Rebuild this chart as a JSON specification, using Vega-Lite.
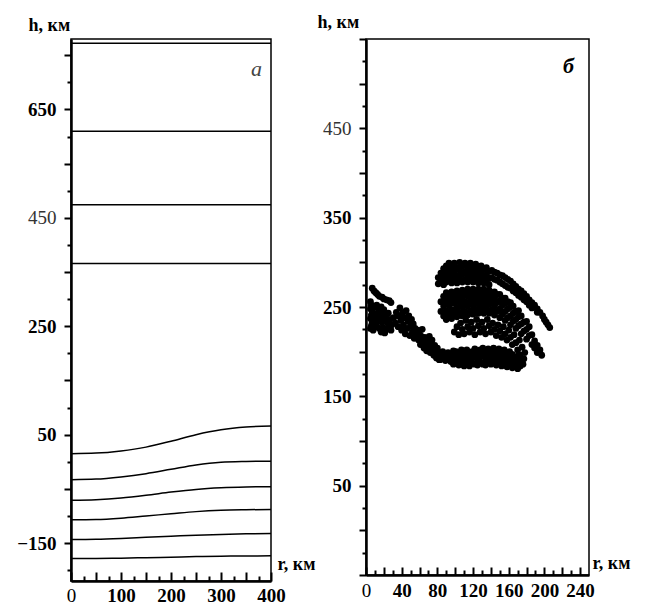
{
  "$schema": "https://vega.github.io/schema/vega-lite/v6.json",
  "padding": {"left": 15, "top": 12, "right": 0, "bottom": 0},
  "background": "white",
  "spacing": 95,
  "bounds": "flush",
  "config": {
    "font": "Liberation Serif",
    "view": {"stroke": "black", "strokeWidth": 1.5},
    "axis": {"domainColor": "black", "domainWidth": 2.5, "tickColor": "black", "tickWidth": 2, "grid": false,
      "labelFont": "Liberation Serif", "labelFontSize": 19, "labelColor": "black",
      "titleFont": "Liberation Serif", "titleFontSize": 18, "titleFontWeight": "bold", "titleColor": "black",
      "labelOverlap": false, "labelFlush": false}
  },
  "datasets": {
    "lines": [
      {"k":"a","r":0,"h":772},{"k":"a","r":400,"h":772},
      {"k":"b","r":0,"h":610},{"k":"b","r":400,"h":610},
      {"k":"c","r":0,"h":474},{"k":"c","r":400,"h":474},
      {"k":"d","r":0,"h":366},{"k":"d","r":400,"h":366},
      {"k":"e","r":0,"h":15},{"k":"e","r":50,"h":16},{"k":"e","r":100,"h":20},{"k":"e","r":150,"h":27},{"k":"e","r":200,"h":38},{"k":"e","r":250,"h":50},{"k":"e","r":300,"h":59},{"k":"e","r":350,"h":64},{"k":"e","r":400,"h":66},
      {"k":"f","r":0,"h":-33},{"k":"f","r":50,"h":-32},{"k":"f","r":100,"h":-28},{"k":"f","r":150,"h":-22},{"k":"f","r":200,"h":-14},{"k":"f","r":250,"h":-6},{"k":"f","r":300,"h":-1},{"k":"f","r":350,"h":0.5},{"k":"f","r":400,"h":1},
      {"k":"g","r":0,"h":-71},{"k":"g","r":50,"h":-70},{"k":"g","r":100,"h":-67},{"k":"g","r":150,"h":-62},{"k":"g","r":200,"h":-56},{"k":"g","r":250,"h":-51},{"k":"g","r":300,"h":-48},{"k":"g","r":350,"h":-46.5},{"k":"g","r":400,"h":-46},
      {"k":"h","r":0,"h":-107},{"k":"h","r":50,"h":-106.5},{"k":"h","r":100,"h":-104},{"k":"h","r":150,"h":-100},{"k":"h","r":200,"h":-96},{"k":"h","r":250,"h":-92},{"k":"h","r":300,"h":-89.5},{"k":"h","r":350,"h":-88.5},{"k":"h","r":400,"h":-88},
      {"k":"i","r":0,"h":-143.5},{"k":"i","r":50,"h":-143},{"k":"i","r":100,"h":-141.5},{"k":"i","r":150,"h":-139.5},{"k":"i","r":200,"h":-137.5},{"k":"i","r":250,"h":-135.5},{"k":"i","r":300,"h":-134},{"k":"i","r":350,"h":-133},{"k":"i","r":400,"h":-132.5},
      {"k":"j","r":0,"h":-178.5},{"k":"j","r":50,"h":-178.3},{"k":"j","r":100,"h":-177.8},{"k":"j","r":150,"h":-177},{"k":"j","r":200,"h":-176},{"k":"j","r":250,"h":-175},{"k":"j","r":300,"h":-174.3},{"k":"j","r":350,"h":-173.8},{"k":"j","r":400,"h":-173.5}
    ],
    "dots": [
      {"r":7,"h":271},{"r":9,"h":268},{"r":11,"h":266},{"r":13,"h":264},{"r":15,"h":262},{"r":18,"h":261},{"r":20,"h":259},{"r":23,"h":258},{"r":26,"h":257},{"r":28,"h":255},
      {"r":5,"h":256},{"r":6,"h":252},{"r":5,"h":248},{"r":7,"h":245},{"r":6,"h":241},{"r":5,"h":237},{"r":7,"h":233},{"r":6,"h":229},{"r":5,"h":226},{"r":8,"h":224},{"r":9,"h":250},{"r":9,"h":240},{"r":10,"h":232},
      {"r":12,"h":252},{"r":14,"h":248},{"r":17,"h":250},{"r":20,"h":247},{"r":13,"h":243},{"r":16,"h":240},{"r":19,"h":243},{"r":22,"h":240},{"r":25,"h":243},{"r":11,"h":236},{"r":14,"h":234},{"r":18,"h":233},{"r":21,"h":236},{"r":24,"h":232},{"r":27,"h":236},{"r":12,"h":228},{"r":15,"h":226},{"r":19,"h":227},{"r":23,"h":225},{"r":26,"h":228},{"r":29,"h":230},{"r":17,"h":222},{"r":21,"h":221},{"r":28,"h":224},
      {"r":31,"h":238},{"r":33,"h":232},{"r":34,"h":244},{"r":36,"h":228},{"r":37,"h":240},{"r":38,"h":249},{"r":39,"h":235},{"r":40,"h":224},{"r":41,"h":243},{"r":42,"h":230},{"r":43,"h":238},{"r":44,"h":220},{"r":45,"h":246},{"r":46,"h":226},{"r":47,"h":234},{"r":48,"h":240},{"r":49,"h":218},{"r":50,"h":229},{"r":51,"h":236},{"r":52,"h":222},{"r":53,"h":231},{"r":54,"h":215},{"r":55,"h":226},{"r":56,"h":219},{"r":58,"h":224},{"r":59,"h":213},{"r":60,"h":220},{"r":61,"h":208},{"r":62,"h":217},{"r":63,"h":225},{"r":64,"h":211},{"r":65,"h":204},{"r":66,"h":216},{"r":67,"h":209},{"r":68,"h":201},{"r":69,"h":213},{"r":70,"h":205},{"r":71,"h":217},{"r":72,"h":199},{"r":73,"h":208},{"r":74,"h":213},{"r":75,"h":202},{"r":76,"h":196},{"r":77,"h":207},{"r":78,"h":200},{"r":79,"h":193},{"r":80,"h":204},{"r":81,"h":197},{"r":82,"h":191},
      {"r":80,"h":194},{"r":80,"h":199},{"r":83,"h":191},{"r":83,"h":197},{"r":86,"h":193},{"r":86,"h":200},{"r":89,"h":190},{"r":89,"h":196},{"r":92,"h":194},{"r":92,"h":199},{"r":95,"h":189},{"r":95,"h":197},
      {"r":98,"h":192},{"r":98,"h":201},{"r":98,"h":186},{"r":101,"h":195},{"r":101,"h":189},{"r":101,"h":200},{"r":104,"h":185},{"r":104,"h":192},{"r":104,"h":199},{"r":107,"h":196},{"r":107,"h":188},{"r":107,"h":202},
      {"r":110,"h":184},{"r":110,"h":191},{"r":110,"h":198},{"r":113,"h":195},{"r":113,"h":187},{"r":113,"h":202},{"r":116,"h":190},{"r":116,"h":197},{"r":116,"h":184},{"r":119,"h":193},{"r":119,"h":200},{"r":119,"h":187},
      {"r":122,"h":186},{"r":122,"h":196},{"r":122,"h":203},{"r":125,"h":190},{"r":125,"h":199},{"r":125,"h":185},{"r":128,"h":194},{"r":128,"h":202},{"r":128,"h":188},{"r":131,"h":186},{"r":131,"h":197},{"r":131,"h":204},
      {"r":134,"h":191},{"r":134,"h":199},{"r":134,"h":185},{"r":137,"h":195},{"r":137,"h":203},{"r":137,"h":188},{"r":140,"h":186},{"r":140,"h":193},{"r":140,"h":201},{"r":143,"h":197},{"r":143,"h":189},{"r":143,"h":204},
      {"r":146,"h":185},{"r":146,"h":192},{"r":146,"h":200},{"r":149,"h":188},{"r":149,"h":196},{"r":149,"h":203},{"r":152,"h":184},{"r":152,"h":191},{"r":152,"h":199},{"r":155,"h":187},{"r":155,"h":195},{"r":155,"h":202},
      {"r":158,"h":183},{"r":158,"h":190},{"r":158,"h":198},{"r":161,"h":186},{"r":161,"h":194},{"r":161,"h":200},{"r":164,"h":182},{"r":164,"h":189},{"r":164,"h":197},{"r":167,"h":185},{"r":167,"h":192},
      {"r":170,"h":181},{"r":170,"h":188},{"r":170,"h":195},{"r":173,"h":184},{"r":173,"h":191},{"r":176,"h":186},
      {"r":99,"h":222},{"r":102,"h":228},{"r":104,"h":219},{"r":106,"h":232},{"r":108,"h":225},{"r":110,"h":220},{"r":112,"h":235},{"r":114,"h":228},{"r":116,"h":222},{"r":118,"h":233},{"r":120,"h":226},{"r":122,"h":219},{"r":124,"h":236},{"r":126,"h":229},{"r":128,"h":222},{"r":130,"h":233},{"r":132,"h":226},{"r":134,"h":220},{"r":136,"h":236},{"r":138,"h":229},{"r":140,"h":222},{"r":142,"h":232},{"r":144,"h":225},{"r":146,"h":218},{"r":148,"h":230},{"r":150,"h":223},{"r":152,"h":216},{"r":154,"h":228},{"r":156,"h":220},{"r":158,"h":213},{"r":160,"h":224},{"r":162,"h":216},{"r":164,"h":208},{"r":166,"h":219},{"r":168,"h":210},{"r":170,"h":202},{"r":172,"h":213},{"r":173,"h":196},{"r":175,"h":205},{"r":177,"h":192},{"r":178,"h":199},
      {"r":84,"h":245},{"r":84,"h":256},{"r":87,"h":240},{"r":87,"h":251},{"r":87,"h":262},{"r":90,"h":236},{"r":90,"h":246},{"r":90,"h":257},{"r":90,"h":266},{"r":93,"h":241},{"r":93,"h":252},{"r":93,"h":263},
      {"r":96,"h":237},{"r":96,"h":247},{"r":96,"h":258},{"r":96,"h":267},{"r":99,"h":243},{"r":99,"h":254},{"r":99,"h":264},{"r":102,"h":239},{"r":102,"h":249},{"r":102,"h":260},{"r":102,"h":268},
      {"r":105,"h":244},{"r":105,"h":255},{"r":105,"h":265},{"r":108,"h":240},{"r":108,"h":250},{"r":108,"h":261},{"r":108,"h":269},{"r":111,"h":245},{"r":111,"h":256},{"r":111,"h":266},
      {"r":114,"h":241},{"r":114,"h":251},{"r":114,"h":262},{"r":114,"h":270},{"r":117,"h":246},{"r":117,"h":257},{"r":117,"h":267},{"r":120,"h":242},{"r":120,"h":252},{"r":120,"h":262},{"r":120,"h":270},
      {"r":123,"h":247},{"r":123,"h":257},{"r":123,"h":267},{"r":126,"h":243},{"r":126,"h":253},{"r":126,"h":263},{"r":126,"h":270},{"r":129,"h":248},{"r":129,"h":258},{"r":129,"h":267},
      {"r":132,"h":243},{"r":132,"h":253},{"r":132,"h":263},{"r":132,"h":270},{"r":135,"h":248},{"r":135,"h":258},{"r":135,"h":267},{"r":138,"h":243},{"r":138,"h":253},{"r":138,"h":262},{"r":138,"h":269},
      {"r":141,"h":247},{"r":141,"h":257},{"r":141,"h":266},{"r":144,"h":241},{"r":144,"h":251},{"r":144,"h":260},{"r":144,"h":267},{"r":147,"h":245},{"r":147,"h":255},{"r":147,"h":264},
      {"r":150,"h":238},{"r":150,"h":248},{"r":150,"h":257},{"r":150,"h":264},{"r":153,"h":242},{"r":153,"h":252},{"r":153,"h":260},{"r":156,"h":235},{"r":156,"h":245},{"r":156,"h":254},{"r":156,"h":260},
      {"r":159,"h":238},{"r":159,"h":248},{"r":159,"h":256},{"r":162,"h":230},{"r":162,"h":240},{"r":162,"h":250},{"r":162,"h":255},{"r":165,"h":234},{"r":165,"h":243},{"r":165,"h":251},
      {"r":168,"h":226},{"r":168,"h":236},{"r":168,"h":245},{"r":171,"h":229},{"r":171,"h":239},{"r":171,"h":246},{"r":174,"h":220},{"r":174,"h":231},{"r":174,"h":240},{"r":177,"h":223},{"r":177,"h":233},
      {"r":180,"h":214},{"r":180,"h":225},{"r":180,"h":234},{"r":183,"h":218},{"r":183,"h":228},{"r":186,"h":208},{"r":186,"h":219},{"r":189,"h":212},{"r":189,"h":204},{"r":192,"h":207},{"r":192,"h":199},{"r":195,"h":202},{"r":197,"h":196},
      {"r":81,"h":283},{"r":81,"h":276},{"r":84,"h":288},{"r":84,"h":279},{"r":87,"h":293},{"r":87,"h":283},{"r":87,"h":275},{"r":90,"h":296},{"r":90,"h":287},{"r":90,"h":278},{"r":93,"h":291},{"r":93,"h":282},{"r":93,"h":299},
      {"r":96,"h":295},{"r":96,"h":286},{"r":96,"h":277},{"r":99,"h":299},{"r":99,"h":290},{"r":99,"h":281},{"r":102,"h":294},{"r":102,"h":285},{"r":102,"h":277},{"r":105,"h":300},{"r":105,"h":291},{"r":105,"h":282},
      {"r":108,"h":296},{"r":108,"h":287},{"r":108,"h":278},{"r":111,"h":299},{"r":111,"h":290},{"r":111,"h":281},{"r":114,"h":295},{"r":114,"h":286},{"r":114,"h":278},{"r":117,"h":299},{"r":117,"h":290},{"r":117,"h":281},
      {"r":120,"h":294},{"r":120,"h":286},{"r":120,"h":278},{"r":123,"h":298},{"r":123,"h":289},{"r":123,"h":281},{"r":126,"h":293},{"r":126,"h":285},{"r":126,"h":277},{"r":129,"h":296},{"r":129,"h":288},{"r":129,"h":280},
      {"r":132,"h":292},{"r":132,"h":284},{"r":132,"h":277},{"r":135,"h":294},{"r":135,"h":286},{"r":135,"h":278},{"r":138,"h":290},{"r":138,"h":282},{"r":138,"h":275},{"r":141,"h":291},{"r":141,"h":283},
      {"r":144,"h":289},{"r":144,"h":281},{"r":147,"h":288},{"r":147,"h":280},{"r":150,"h":286},{"r":150,"h":278},{"r":153,"h":285},{"r":153,"h":276},{"r":156,"h":283},{"r":156,"h":274},{"r":159,"h":281},{"r":159,"h":272},
      {"r":162,"h":279},{"r":162,"h":271},{"r":165,"h":276},{"r":165,"h":268},{"r":168,"h":273},{"r":168,"h":266},{"r":171,"h":270},{"r":171,"h":263},{"r":174,"h":268},{"r":174,"h":261},{"r":177,"h":265},{"r":177,"h":258},
      {"r":180,"h":262},{"r":180,"h":256},{"r":183,"h":258},{"r":183,"h":252},{"r":186,"h":255},{"r":186,"h":249},{"r":189,"h":252},{"r":192,"h":248},{"r":192,"h":244},{"r":195,"h":244},{"r":198,"h":240},{"r":200,"h":236},{"r":202,"h":233},{"r":204,"h":230},{"r":206,"h":227}
    ]
  },
  "hconcat": [
    {
      "width": 200,
      "height": 542,
      "title": {"text": "а", "orient": "top", "anchor": "end", "frame": "group", "offset": 0, "baseline": "alphabetic", "dx": -9, "dy": 82, "font": "Liberation Serif", "fontSize": 22, "fontStyle": "italic", "fontWeight": "normal", "color": "#444444"},
      "data": {"name": "lines"},
      "mark": {"type": "line", "color": "black", "strokeWidth": 1.5, "interpolate": "monotone"},
      "encoding": {
        "x": {"field": "r", "type": "quantitative", "scale": {"domain": [0, 400], "nice": false},
          "axis": {"values": [0,25,50,75,100,125,150,175,200,225,250,275,300,325,350,375,400],
            "labelExpr": "datum.value % 100 == 0 ? datum.label : ''",
            "tickSize": {"condition": {"test": "datum.value % 50 == 0", "value": -9}, "value": -5},
            "labelPadding": 14,
            "labelFontWeight": {"condition": {"test": "datum.value == 0", "value": "normal"}, "value": "bold"},
            "title": "r, км", "titleX": 206, "titleY": -17, "titleAlign": "left", "titleBaseline": "middle", "titleAngle": 0}},
        "y": {"field": "h", "type": "quantitative", "scale": {"domain": [-220, 780], "nice": false},
          "axis": {"values": [-200,-150,-100,-50,0,50,100,150,200,250,300,350,400,450,500,550,600,650,700,750],
            "labelExpr": "indexof([-150,50,250,450,650], datum.value) >= 0 ? datum.label : ''",
            "tickSize": {"condition": {"test": "(datum.value + 1000) % 100 == 50", "value": 7}, "value": 4},
            "labelPadding": 8,
            "labelFontWeight": {"condition": {"test": "datum.value == 450", "value": "normal"}, "value": "bold"},
            "labelColor": {"condition": {"test": "datum.value == 450", "value": "#333333"}, "value": "black"},
            "title": "h, км", "titleX": -43, "titleY": -14, "titleAlign": "left", "titleBaseline": "middle", "titleAngle": 0}},
        "detail": {"field": "k"}
      }
    },
    {
      "width": 223,
      "height": 536,
      "title": {"text": "б", "orient": "top", "anchor": "end", "frame": "group", "offset": 0, "baseline": "alphabetic", "dx": -15, "dy": 82, "font": "Liberation Serif", "fontSize": 22, "fontStyle": "italic", "fontWeight": "bold", "color": "black"},
      "data": {"name": "dots"},
      "mark": {"type": "circle", "color": "black", "size": 46, "opacity": 1},
      "encoding": {
        "x": {"field": "r", "type": "quantitative", "scale": {"domain": [0, 250], "nice": false},
          "axis": {"values": [0,10,20,30,40,50,60,70,80,90,100,110,120,130,140,150,160,170,180,190,200,210,220,230,240],
            "labelExpr": "datum.value % 40 == 0 ? datum.label : ''",
            "tickSize": {"condition": {"test": "datum.value % 20 == 0", "value": -8}, "value": -5},
            "labelPadding": 14,
            "labelFontWeight": {"condition": {"test": "datum.value == 0", "value": "normal"}, "value": "bold"},
            "title": "r, км", "titleX": 226, "titleY": -12, "titleAlign": "left", "titleBaseline": "middle", "titleAngle": 0}},
        "y": {"field": "h", "type": "quantitative", "scale": {"domain": [-50, 550], "nice": false},
          "axis": {"values": [-50,-25,0,25,50,75,100,125,150,175,200,225,250,275,300,325,350,375,400,425,450,475,500,525,550],
            "labelExpr": "indexof([50,150,250,350,450], datum.value) >= 0 ? datum.label : ''",
            "tickSize": {"condition": {"test": "(datum.value + 1000) % 50 == 0", "value": 7}, "value": 4},
            "labelPadding": 8,
            "labelFontWeight": {"condition": {"test": "datum.value == 450", "value": "normal"}, "value": "bold"},
            "labelColor": {"condition": {"test": "datum.value == 450", "value": "#333333"}, "value": "black"},
            "title": "h, км", "titleX": -49, "titleY": -17, "titleAlign": "left", "titleBaseline": "middle", "titleAngle": 0}}
      }
    }
  ]
}
